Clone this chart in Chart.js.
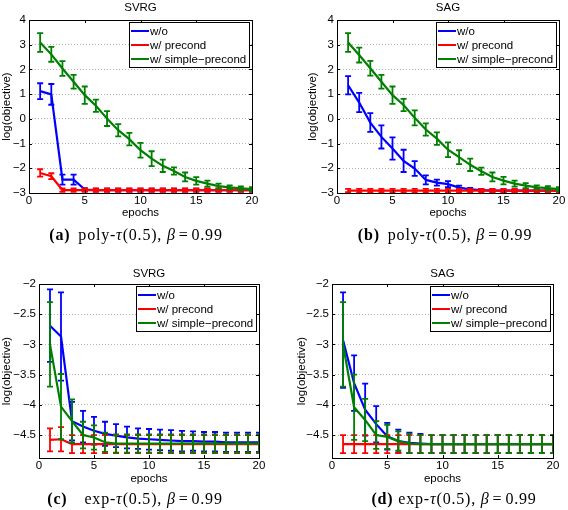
<html>
<head>
<meta charset="utf-8" />
<title>log(objective) vs epochs</title>
<style>
  body { margin: 0; background: #fff; }
  #page { position: relative; width: 568px; height: 510px; overflow: hidden; }
  canvas { position: absolute; left: 0; top: 0; }
  .cap { position: absolute; font-family: "Liberation Serif", serif; font-size: 16px; line-height: 16px;
         letter-spacing: 0.8px; white-space: nowrap; transform: translateX(-50%); color: #000; }
  .cap .eq { margin: 0 3px; }
</style>
</head>
<body>
<div id="page">
  <canvas id="chart_a" width="568" height="510"></canvas>
  <canvas id="chart_b" width="568" height="510"></canvas>
  <canvas id="chart_c" width="568" height="510"></canvas>
  <canvas id="chart_d" width="568" height="510"></canvas>
  <div class="cap" style="left:136px; top:227px"><b>(a)</b><span style="margin-left:8px">poly-<i>τ</i>(0.5), <i>β</i><span class="eq">=</span>0.99</span></div>
  <div class="cap" style="left:445px; top:227px"><b>(b)</b><span style="margin-left:8px">poly-<i>τ</i>(0.5), <i>β</i><span class="eq">=</span>0.99</span></div>
  <div class="cap" style="left:135px; top:491px"><b>(c)</b><span style="margin-left:17px">exp-<i>τ</i>(0.5), <i>β</i><span class="eq">=</span>0.99</span></div>
  <div class="cap" style="left:454px; top:491px"><b>(d)</b><span style="margin-left:5px">exp-<i>τ</i>(0.5), <i>β</i><span class="eq">=</span>0.99</span></div>
</div>

<script src="https://cdn.jsdelivr.net/npm/chart.js"></script>
<script>

// ---- data ----
epochs = [1, 2, 3, 4, 5, 6, 7, 8, 9, 10, 11, 12, 13, 14, 15, 16, 17, 18, 19, 20];
seriesNames = ["w/o", "w/ precond", "w/ simple\u2212precond"];
xTicks = [0, 5, 10, 15, 20];
yTicksPoly = [-3, -2, -1, 0, 1, 2, 3, 4];
yTicksExp = [-4.5, -4, -3.5, -3, -2.5, -2];

// (a) SVRG, poly
svrgPolyWo      = [1.12, 0.99, -2.46, -2.46, -2.86, -2.88, -2.88, -2.88, -2.88, -2.88, -2.88, -2.88, -2.88, -2.88, -2.88, -2.88, -2.88, -2.88, -2.88, -2.88];
svrgPolyWoErr   = [0.32, 0.42, 0.2, 0.2, 0.06, 0.06, 0.06, 0.06, 0.06, 0.06, 0.06, 0.06, 0.06, 0.06, 0.06, 0.06, 0.06, 0.06, 0.06, 0.06];
svrgPolyPre     = [-2.19, -2.32, -2.88, -2.88, -2.88, -2.88, -2.88, -2.88, -2.88, -2.88, -2.88, -2.88, -2.88, -2.88, -2.88, -2.88, -2.88, -2.88, -2.88, -2.88];
svrgPolyPreErr  = [0.15, 0.12, 0.07, 0.07, 0.07, 0.07, 0.07, 0.07, 0.07, 0.07, 0.07, 0.07, 0.07, 0.07, 0.07, 0.07, 0.07, 0.07, 0.07, 0.07];
svrgPolySim     = [3.09, 2.61, 2.04, 1.5, 0.96, 0.53, 0.01, -0.46, -0.82, -1.27, -1.61, -1.9, -2.11, -2.35, -2.51, -2.62, -2.72, -2.77, -2.81, -2.84];
svrgPolySimErr  = [0.38, 0.3, 0.3, 0.28, 0.35, 0.25, 0.3, 0.25, 0.25, 0.3, 0.3, 0.25, 0.15, 0.18, 0.15, 0.12, 0.1, 0.08, 0.08, 0.08];

// (b) SAG, poly
sagPolyWo       = [1.36, 0.66, -0.15, -0.73, -1.2, -1.7, -2.01, -2.47, -2.58, -2.64, -2.78, -2.85, -2.88, -2.9, -2.9, -2.9, -2.9, -2.9, -2.9, -2.9];
sagPolyWoErr    = [0.37, 0.39, 0.38, 0.47, 0.45, 0.45, 0.3, 0.18, 0.12, 0.12, 0.08, 0.06, 0.05, 0.05, 0.05, 0.05, 0.05, 0.05, 0.05, 0.05];
sagPolyPre      = [-2.9, -2.9, -2.9, -2.9, -2.9, -2.9, -2.9, -2.9, -2.9, -2.9, -2.9, -2.9, -2.9, -2.9, -2.9, -2.9, -2.9, -2.9, -2.9, -2.9];
sagPolyPreErr   = [0.07, 0.07, 0.07, 0.07, 0.07, 0.07, 0.07, 0.07, 0.07, 0.07, 0.07, 0.07, 0.07, 0.07, 0.07, 0.07, 0.07, 0.07, 0.07, 0.07];
sagPolySim      = [3.09, 2.58, 2.05, 1.5, 0.96, 0.56, 0.04, -0.43, -0.8, -1.25, -1.55, -1.86, -2.12, -2.35, -2.5, -2.62, -2.7, -2.77, -2.8, -2.84];
sagPolySimErr   = [0.38, 0.3, 0.3, 0.28, 0.35, 0.25, 0.3, 0.25, 0.25, 0.3, 0.28, 0.25, 0.15, 0.18, 0.15, 0.12, 0.1, 0.08, 0.08, 0.08];

// (c) SVRG, exp
svrgExpWo       = [-2.69, -2.87, -4.27, -4.36, -4.43, -4.48, -4.51, -4.54, -4.56, -4.57, -4.58, -4.59, -4.6, -4.6, -4.61, -4.61, -4.62, -4.62, -4.62, -4.62];
svrgExpWoErr    = [0.6, 0.73, 0.32, 0.26, 0.23, 0.2, 0.19, 0.18, 0.17, 0.17, 0.17, 0.17, 0.17, 0.16, 0.16, 0.16, 0.16, 0.16, 0.16, 0.16];
svrgExpPre      = [-4.58, -4.57, -4.65, -4.65, -4.65, -4.65, -4.65, -4.65, -4.65, -4.65, -4.65, -4.65, -4.65, -4.65, -4.65, -4.65, -4.65, -4.65, -4.65, -4.65];
svrgExpPreErr   = [0.19, 0.2, 0.15, 0.15, 0.15, 0.15, 0.15, 0.15, 0.15, 0.15, 0.15, 0.15, 0.15, 0.15, 0.15, 0.15, 0.15, 0.15, 0.15, 0.15];
svrgExpSim      = [-3.0, -4.03, -4.27, -4.5, -4.54, -4.62, -4.64, -4.64, -4.64, -4.64, -4.64, -4.64, -4.64, -4.64, -4.64, -4.64, -4.64, -4.64, -4.64, -4.64];
svrgExpSimErr   = [0.7, 0.54, 0.36, 0.22, 0.2, 0.16, 0.15, 0.15, 0.15, 0.15, 0.15, 0.15, 0.15, 0.15, 0.15, 0.15, 0.15, 0.15, 0.15, 0.15];

// (d) SAG, exp
sagExpWo        = [-2.93, -3.64, -4.08, -4.32, -4.52, -4.6, -4.63, -4.64, -4.65, -4.65, -4.65, -4.65, -4.65, -4.65, -4.65, -4.65, -4.65, -4.65, -4.65, -4.65];
sagExpWoErr     = [0.79, 0.46, 0.43, 0.3, 0.22, 0.19, 0.17, 0.16, 0.15, 0.15, 0.15, 0.15, 0.15, 0.15, 0.15, 0.15, 0.15, 0.15, 0.15, 0.15];
sagExpPre       = [-4.65, -4.65, -4.65, -4.65, -4.65, -4.65, -4.65, -4.65, -4.65, -4.65, -4.65, -4.65, -4.65, -4.65, -4.65, -4.65, -4.65, -4.65, -4.65, -4.65];
sagExpPreErr    = [0.15, 0.15, 0.15, 0.15, 0.15, 0.15, 0.15, 0.15, 0.15, 0.15, 0.15, 0.15, 0.15, 0.15, 0.15, 0.15, 0.15, 0.15, 0.15, 0.15];
sagExpSim       = [-3.0, -4.04, -4.25, -4.5, -4.53, -4.6, -4.64, -4.65, -4.65, -4.65, -4.65, -4.65, -4.65, -4.65, -4.65, -4.65, -4.65, -4.65, -4.65, -4.65];
sagExpSimErr    = [0.7, 0.54, 0.35, 0.23, 0.2, 0.16, 0.16, 0.15, 0.15, 0.15, 0.15, 0.15, 0.15, 0.15, 0.15, 0.15, 0.15, 0.15, 0.15, 0.15];

// ---- styling ----
var colors = ['#0000ff', '#ff0000', '#008000'];
var fontFamily = '"Liberation Sans", Arial, sans-serif';
var fontSize = 11.5;
var half = fontSize * 1.2 / 2;

function fmt(v) { return String(v).replace('-', '\u2212'); }

// error bars, drawn right after each line so the stacking matches
var errorBars = {
  id: 'errorBars',
  afterDatasetDraw: function(chart, args) {
    var ds = chart.data.datasets[args.index];
    if (!ds.errors) return;
    var ctx = chart.ctx, xs = chart.scales.x, ys = chart.scales.y, a = chart.chartArea;
    ctx.save();
    ctx.beginPath();
    ctx.rect(a.left, a.top, a.right - a.left, a.bottom - a.top);
    ctx.clip();
    ctx.strokeStyle = ds.borderColor;
    ctx.lineWidth = 1.8;
    ctx.beginPath();
    ds.data.forEach(function(p, i) {
      var px = xs.getPixelForValue(p.x);
      var top = ys.getPixelForValue(p.y + ds.errors[i]);
      var bot = ys.getPixelForValue(p.y - ds.errors[i]);
      ctx.moveTo(px, top); ctx.lineTo(px, bot);
      ctx.moveTo(px - 3, top); ctx.lineTo(px + 3, top);
      ctx.moveTo(px - 3, bot); ctx.lineTo(px + 3, bot);
    });
    ctx.stroke();
    ctx.restore();
  }
};

// matlab style box with inward ticks, plus the legend inside the axes
var matlabBox = {
  id: 'matlabBox',
  afterDraw: function(chart) {
    var ctx = chart.ctx, a = chart.chartArea, xs = chart.scales.x, ys = chart.scales.y;
    ctx.save();
    ctx.strokeStyle = '#000';
    ctx.lineWidth = 1;
    ctx.beginPath();
    xs.ticks.forEach(function(t) {
      var px = Math.round(xs.getPixelForValue(t.value)) + 0.5;
      ctx.moveTo(px, a.bottom); ctx.lineTo(px, a.bottom - 3);
      ctx.moveTo(px, a.top); ctx.lineTo(px, a.top + 3);
    });
    ys.ticks.forEach(function(t) {
      var py = Math.round(ys.getPixelForValue(t.value)) + 0.5;
      ctx.moveTo(a.left, py); ctx.lineTo(a.left + 3, py);
      ctx.moveTo(a.right, py); ctx.lineTo(a.right - 3, py);
    });
    ctx.stroke();
    ctx.strokeRect(Math.round(a.left) + 0.5, Math.round(a.top) + 0.5,
                   Math.round(a.right - a.left), Math.round(a.bottom - a.top));

    // legend
    var items = chart.data.datasets;
    ctx.font = fontSize + 'px ' + fontFamily;
    var tw = 0;
    items.forEach(function(d) { tw = Math.max(tw, ctx.measureText(d.label).width); });
    var w = Math.round(21 + tw + 3), h = 45;
    var x0 = Math.round(a.right - 3 - w), y0 = Math.round(a.top + 2);
    ctx.fillStyle = '#fff';
    ctx.fillRect(x0, y0, w, h);
    ctx.strokeRect(x0 + 0.5, y0 + 0.5, w, h);
    ctx.textBaseline = 'middle';
    items.forEach(function(d, i) {
      var y = y0 + 9 + i * 14;
      ctx.strokeStyle = d.borderColor;
      ctx.lineWidth = 2;
      ctx.beginPath(); ctx.moveTo(x0 + 2, y); ctx.lineTo(x0 + 20, y); ctx.stroke();
      ctx.fillStyle = '#000';
      ctx.fillText(d.label, x0 + 21, y + 0.5);
    });
    ctx.restore();
  }
};

function makeChart(id, title, series, errs, yTicks, yMin, yMax, box) {
  var datasets = series.map(function(vals, k) {
    return {
      label: seriesNames[k],
      data: epochs.map(function(e, i) { return {x: e, y: vals[i]}; }),
      errors: errs[k],
      borderColor: colors[k],
      backgroundColor: colors[k],
      borderWidth: 2.2,
      pointRadius: 0,
      tension: 0,
      order: 3 - k
    };
  });
  var padLeft = Math.max(0, box.yTitleX - half);
  var xHeight = box.xTitleY + half - box.b;
  var font = {family: fontFamily, size: fontSize};
  return new Chart(document.getElementById(id), {
    type: 'line',
    data: {datasets: datasets},
    options: {
      responsive: false,
      animation: false,
      events: [],
      layout: {padding: {left: padLeft, right: 568 - box.r, top: box.titleY - 7.5, bottom: 510 - box.b - xHeight}},
      plugins: {
        legend: {display: false},
        tooltip: {enabled: false},
        title: {display: true, text: title, color: '#000', fullSize: false,
                font: {family: fontFamily, size: fontSize, weight: 'normal'},
                padding: {top: 7.5 - half, bottom: box.t - box.titleY - half}}
      },
      scales: {
        x: {
          type: 'linear', min: 0, max: 20,
          afterBuildTicks: function(s) { s.ticks = xTicks.map(function(v) { return {value: v}; }); },
          afterFit: function(s) { s.height = xHeight; },
          ticks: {color: '#000', font: font, padding: 1, maxRotation: 0, callback: fmt},
          grid: {display: false, drawTicks: false},
          border: {display: false},
          title: {display: true, text: 'epochs', color: '#000', font: font, padding: {top: 0, bottom: 0}}
        },
        y: {
          type: 'linear', min: yMin, max: yMax,
          afterBuildTicks: function(s) { s.ticks = yTicks.map(function(v) { return {value: v}; }); },
          afterFit: function(s) { s.width = box.l - padLeft; },
          ticks: {color: '#000', font: font, padding: 3, callback: fmt},
          grid: {color: '#b4b4b4', lineWidth: 1, drawTicks: false},
          border: {display: false, dash: [1, 2]},
          title: {display: true, text: 'log(objective)', color: '#000', font: font, padding: {top: 0, bottom: 0}}
        }
      }
    },
    plugins: [errorBars, matlabBox]
  });
}

makeChart('chart_a', 'SVRG',
  [svrgPolyWo, svrgPolyPre, svrgPolySim], [svrgPolyWoErr, svrgPolyPreErr, svrgPolySimErr],
  yTicksPoly, -3, 4, {l: 29, t: 20, r: 252, b: 193, titleY: 7.5, yTitleX: 6.5, xTitleY: 213});
makeChart('chart_b', 'SAG',
  [sagPolyWo, sagPolyPre, sagPolySim], [sagPolyWoErr, sagPolyPreErr, sagPolySimErr],
  yTicksPoly, -3, 4, {l: 337, t: 20, r: 559, b: 193, titleY: 7.5, yTitleX: 313, xTitleY: 213});
makeChart('chart_c', 'SVRG',
  [svrgExpWo, svrgExpPre, svrgExpSim], [svrgExpWoErr, svrgExpPreErr, svrgExpSimErr],
  yTicksExp, -4.88, -2, {l: 39, t: 284, r: 259, b: 458, titleY: 273.5, yTitleX: 7, xTitleY: 479});
makeChart('chart_d', 'SAG',
  [sagExpWo, sagExpPre, sagExpSim], [sagExpWoErr, sagExpPreErr, sagExpSimErr],
  yTicksExp, -4.88, -2, {l: 332, t: 284, r: 553, b: 458, titleY: 273.5, yTitleX: 302, xTitleY: 479});

</script>
</body>
</html>
